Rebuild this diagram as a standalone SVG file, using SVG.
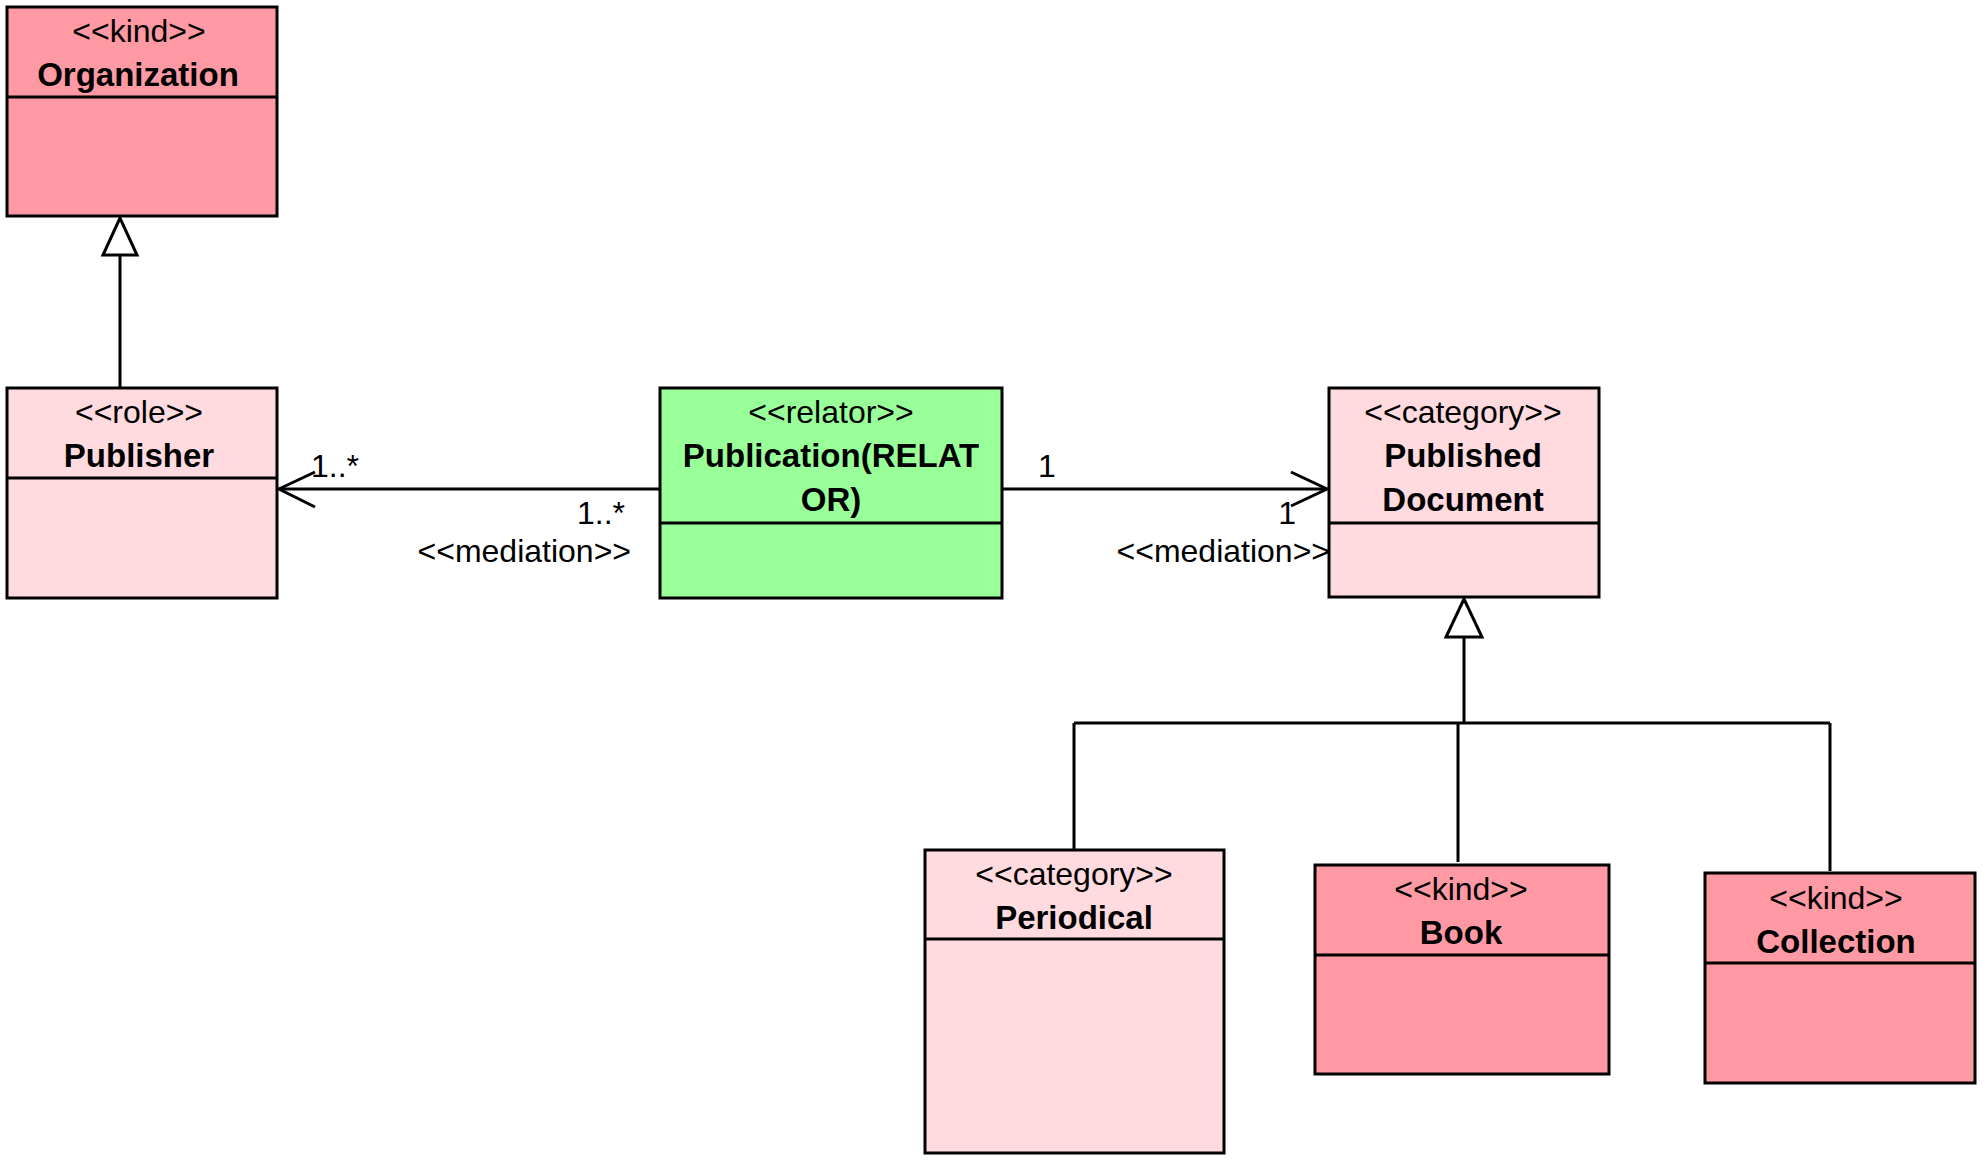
<svg xmlns="http://www.w3.org/2000/svg" width="1986" height="1164" viewBox="0 0 1986 1164">
<style>
  .box { stroke: #000; stroke-width: 3; }
  .kind { fill: #FF99A3; }
  .light { fill: #FFDADE; }
  .relator { fill: #99FF99; }
  .div { stroke: #000; stroke-width: 3; fill: none; }
  .st { font-family: "Liberation Sans", Arial, sans-serif; font-size: 32px; text-anchor: middle; fill: #000; }
  .nm { font-family: "Liberation Sans", Arial, sans-serif; font-size: 33px; font-weight: bold; text-anchor: middle; fill: #000; }
  .lbl { font-family: "Liberation Sans", Arial, sans-serif; font-size: 32px; fill: #000; }
  .ln { stroke: #000; stroke-width: 3; fill: none; }
  .tri { stroke: #000; stroke-width: 3; fill: #fff; }
</style>
<rect width="1986" height="1164" fill="#fff"/>

<g id="connectors">
  <!-- Publisher -> Organization generalization -->
  <line class="ln" x1="120" y1="387" x2="120" y2="255"/>
  <polygon class="tri" points="120,218 103,255 137,255"/>
  <!-- Relator -> Publisher mediation -->
  <line class="ln" x1="659" y1="489" x2="279" y2="489"/>
  <polyline class="ln" points="315,472 279,489 315,507"/>
  <text class="lbl" x="311" y="477">1..*</text>
  <text class="lbl" x="625" y="524" text-anchor="end">1..*</text>
  <text class="lbl" x="631" y="562" text-anchor="end">&lt;&lt;mediation&gt;&gt;</text>
  <!-- Relator -> Published Document mediation -->
  <line class="ln" x1="1003" y1="489" x2="1327" y2="489"/>
  <polyline class="ln" points="1291,472 1327,489 1291,506"/>
  <text class="lbl" x="1038" y="477">1</text>
  <text class="lbl" x="1296" y="524" text-anchor="end">1</text>
  <text class="lbl" x="1330" y="562" text-anchor="end">&lt;&lt;mediation&gt;&gt;</text>
  <!-- Generalization set to Published Document -->
  <line class="ln" x1="1464" y1="723" x2="1464" y2="637"/>
  <polygon class="tri" points="1464,599 1446,637 1482,637"/>
  <line class="ln" x1="1074" y1="723" x2="1830" y2="723"/>
  <line class="ln" x1="1074" y1="723" x2="1074" y2="849"/>
  <line class="ln" x1="1458" y1="723" x2="1458" y2="862"/>
  <line class="ln" x1="1830" y1="723" x2="1830" y2="871"/>
</g>

<g id="organization">
  <rect class="box kind" x="7" y="7" width="270" height="209"/>
  <line class="div" x1="7" y1="97" x2="277" y2="97"/>
  <text class="st" x="139" y="42">&lt;&lt;kind&gt;&gt;</text>
  <text class="nm" x="138" y="86">Organization</text>
</g>

<g id="publisher">
  <rect class="box light" x="7" y="388" width="270" height="210"/>
  <line class="div" x1="7" y1="478" x2="277" y2="478"/>
  <text class="st" x="139" y="423">&lt;&lt;role&gt;&gt;</text>
  <text class="nm" x="139" y="467">Publisher</text>
</g>

<g id="publication">
  <rect class="box relator" x="660" y="388" width="342" height="210"/>
  <line class="div" x1="660" y1="523" x2="1002" y2="523"/>
  <text class="st" x="831" y="423">&lt;&lt;relator&gt;&gt;</text>
  <text class="nm" x="831" y="467">Publication(RELAT</text>
  <text class="nm" x="831" y="511">OR)</text>
</g>

<g id="published-document">
  <rect class="box light" x="1329" y="388" width="270" height="209"/>
  <line class="div" x1="1329" y1="523" x2="1599" y2="523"/>
  <text class="st" x="1463" y="423">&lt;&lt;category&gt;&gt;</text>
  <text class="nm" x="1463" y="467">Published</text>
  <text class="nm" x="1463" y="511">Document</text>
</g>

<g id="periodical">
  <rect class="box light" x="925" y="850" width="299" height="303"/>
  <line class="div" x1="925" y1="939" x2="1224" y2="939"/>
  <text class="st" x="1074" y="885">&lt;&lt;category&gt;&gt;</text>
  <text class="nm" x="1074" y="929">Periodical</text>
</g>

<g id="book">
  <rect class="box kind" x="1315" y="865" width="294" height="209"/>
  <line class="div" x1="1315" y1="955" x2="1609" y2="955"/>
  <text class="st" x="1461" y="900">&lt;&lt;kind&gt;&gt;</text>
  <text class="nm" x="1461" y="944">Book</text>
</g>

<g id="collection">
  <rect class="box kind" x="1705" y="873" width="270" height="210"/>
  <line class="div" x1="1705" y1="963" x2="1975" y2="963"/>
  <text class="st" x="1836" y="909">&lt;&lt;kind&gt;&gt;</text>
  <text class="nm" x="1836" y="953">Collection</text>
</g>
</svg>
